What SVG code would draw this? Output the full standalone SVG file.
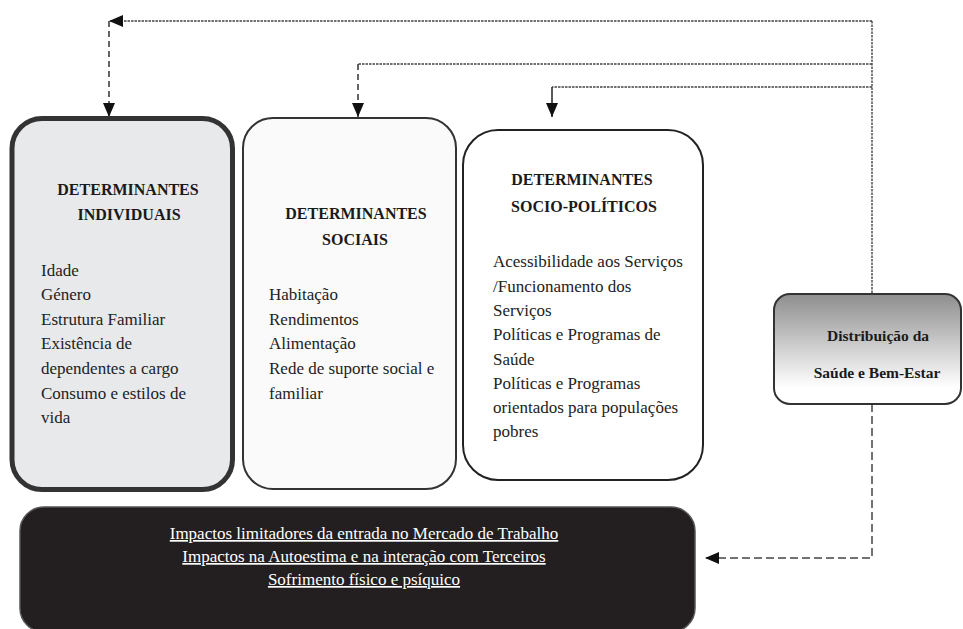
<svg xmlns="http://www.w3.org/2000/svg" width="963" height="629" viewBox="0 0 963 629">
<style>
.head{font-family:"Liberation Serif","Times New Roman",serif;font-weight:bold;font-size:16px;fill:#1a1a1a;text-anchor:middle}
.body{font-family:"Liberation Serif","Times New Roman",serif;font-size:17px;fill:#222}
.dist{font-family:"Liberation Serif","Times New Roman",serif;font-weight:bold;font-size:15.5px;fill:#1a1a1a;text-anchor:middle}
.imp{font-family:"Liberation Serif","Times New Roman",serif;font-size:17px;fill:#ffffff;text-anchor:middle;text-decoration:underline}
.dot{fill:none;stroke:#444;stroke-width:1.4;stroke-dasharray:2.5 1}
.dash{fill:none;stroke:#333;stroke-width:1.5;stroke-dasharray:6 4}
.solid{fill:none;stroke:#222;stroke-width:1.5}
.ldash{fill:none;stroke:#444;stroke-width:1.5;stroke-dasharray:8 4}
</style>
<defs>
<marker id="arr" viewBox="0 0 14 12" refX="14" refY="6" markerWidth="14" markerHeight="12" markerUnits="userSpaceOnUse" orient="auto">
<path d="M0,0 L14,6 L0,12 z" fill="#111"/>
</marker>
<linearGradient id="grad" x1="0" y1="0" x2="0" y2="1">
<stop offset="0" stop-color="#8e8e8e"/>
<stop offset="0.85" stop-color="#ffffff"/>
<stop offset="1" stop-color="#ffffff"/>
</linearGradient>
</defs>
<g id="connectors">
<path class="dot" d="M872,21 L872,293"/>
<path class="dot" d="M872,21 L109,21" marker-end="url(#arr)"/>
<path class="dash" d="M109,21 L109,117" marker-end="url(#arr)"/>
<path class="dot" d="M872,64 L358,64"/>
<path class="dash" d="M358,64 L358,117" marker-end="url(#arr)"/>
<path class="dot" d="M872,87 L552,87"/>
<path class="solid" d="M552,87 L552,117" marker-end="url(#arr)"/>
<path class="ldash" d="M872,404 L872,558 L705,558" marker-end="url(#arr)"/>
</g>
<g id="individuais">
<rect x="12" y="118.5" width="220.5" height="371" rx="30" fill="#e8e9eb" stroke="#333" stroke-width="5"/>
<text class="head" x="128" y="195">DETERMINANTES</text>
<text class="head" x="129" y="220">INDIVIDUAIS</text>
<text class="body" x="41" y="276">Idade</text>
<text class="body" x="41" y="300">Género</text>
<text class="body" x="41" y="325">Estrutura Familiar</text>
<text class="body" x="41" y="349">Existência de</text>
<text class="body" x="41" y="374">dependentes a cargo</text>
<text class="body" x="41" y="399">Consumo e estilos de</text>
<text class="body" x="41" y="423">vida</text>
</g>
<g id="sociais">
<rect x="243" y="118" width="213" height="371" rx="30" fill="#fafafa" stroke="#333" stroke-width="2"/>
<text class="head" x="356" y="219">DETERMINANTES</text>
<text class="head" x="355" y="245">SOCIAIS</text>
<text class="body" x="269" y="300">Habitação</text>
<text class="body" x="269" y="325">Rendimentos</text>
<text class="body" x="269" y="349">Alimentação</text>
<text class="body" x="269" y="374">Rede de suporte social e</text>
<text class="body" x="269" y="399">familiar</text>
</g>
<g id="sociopoliticos">
<rect x="463" y="130" width="240" height="350" rx="35" fill="#ffffff" stroke="#222" stroke-width="2"/>
<text class="head" x="582" y="185">DETERMINANTES</text>
<text class="head" x="584" y="212">SOCIO-POLÍTICOS</text>
<text class="body" x="493" y="267">Acessibilidade aos Serviços</text>
<text class="body" x="493" y="292">/Funcionamento dos</text>
<text class="body" x="493" y="316">Serviços</text>
<text class="body" x="493" y="340">Políticas e Programas de</text>
<text class="body" x="493" y="365">Saúde</text>
<text class="body" x="493" y="389">Políticas e Programas</text>
<text class="body" x="493" y="413">orientados para populações</text>
<text class="body" x="493" y="437">pobres</text>
</g>
<g id="distribuicao">
<rect x="774" y="294" width="187" height="110" rx="16" fill="url(#grad)" stroke="#333" stroke-width="2"/>
<text class="dist" x="878" y="341">Distribuição da</text>
<text class="dist" x="877" y="378">Saúde e Bem-Estar</text>
</g>
<g id="impactos">
<rect x="20" y="507" width="675" height="125" rx="24" fill="#231f20" stroke="#555" stroke-width="1.5"/>
<text class="imp" x="364" y="539">Impactos limitadores da entrada no Mercado de Trabalho</text>
<text class="imp" x="364" y="562">Impactos na Autoestima e na interação com Terceiros</text>
<text class="imp" x="364" y="585">Sofrimento físico e psíquico</text>
</g>
</svg>
